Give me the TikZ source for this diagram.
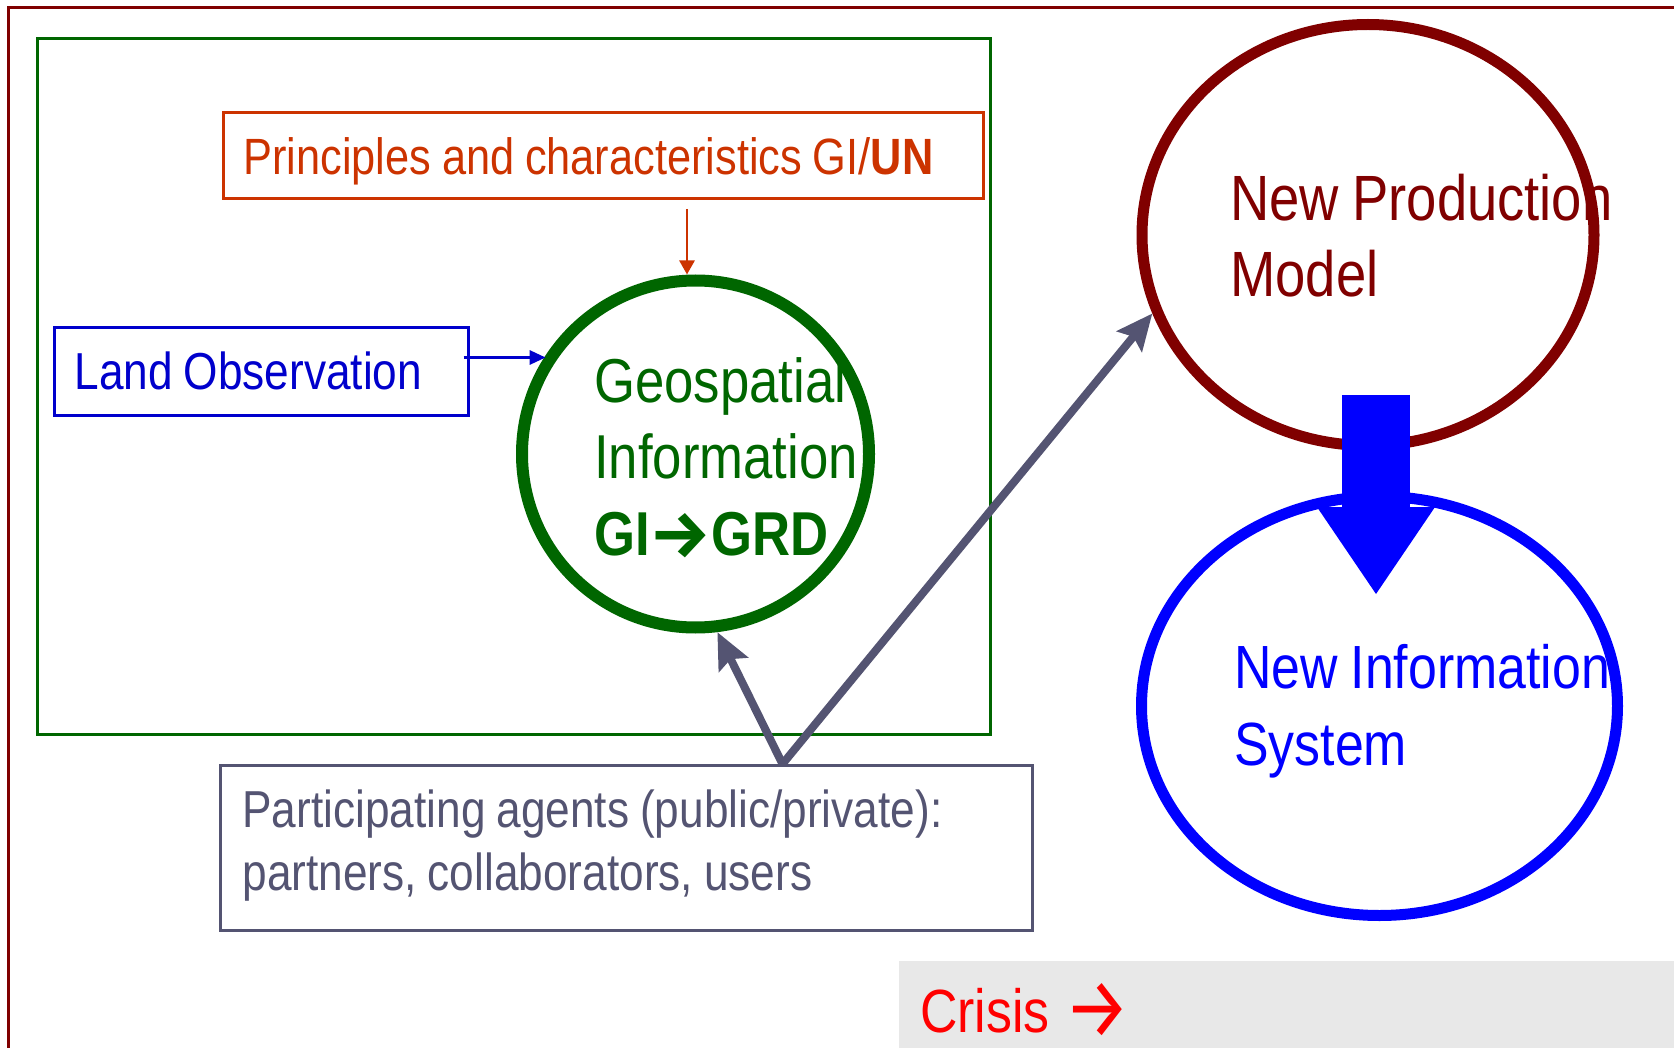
\documentclass[tikz,border=0pt]{standalone}
\usepackage{fontspec}
\usepackage{graphicx}
\setmainfont[FakeStretch=0.85]{Liberation Sans}
\newfontfamily\arrowfont{Fira Sans}
\usetikzlibrary{shapes.geometric,arrows.meta,calc}
\definecolor{frameRed}{HTML}{800000}
\definecolor{geoGreen}{HTML}{006600}
\definecolor{prinOrange}{HTML}{CC3300}
\definecolor{landBlue}{HTML}{0000CC}
\definecolor{agentGray}{HTML}{545472}
\definecolor{npmRed}{HTML}{800000}
\definecolor{nisBlue}{HTML}{0000FF}
\definecolor{crisisRed}{HTML}{FF0000}
\definecolor{crisisBg}{HTML}{E8E8E8}
\newcommand\myfs[2]{\fontsize{#1}{#2}\selectfont\spaceskip=0.21em plus 0.1em minus 0.05em\relax}
\newcommand\rarr[3]{\raisebox{#3}{\resizebox{#1}{#2}{\arrowfont →}}}
\newcommand\rarrbold[3]{\raisebox{#3}{\resizebox{#1}{#2}{\arrowfont\bfseries →}}}
\begin{document}
\begin{tikzpicture}[x=1pt,y=-1pt,
  textbox/.style={draw, rectangle, line width=3pt, align=flush left, inner ysep=0pt, anchor=north west},
  freetext/.style={anchor=base west, align=flush left, inner sep=0pt},
  agentarrow/.style={draw=agentGray, line width=8pt, -{Stealth[length=36pt,width=32pt,inset=6pt]}}
]
\path[use as bounding box] (0,0) rectangle (1674,1048);

% outer frame
\draw[frameRed, line width=3pt] (1674,8) -- (8,8) -- (8,1048);

% green frame
\draw[geoGreen, line width=3pt] (37,39) rectangle (990,734);

% crisis band
\node[fill=crisisBg, anchor=north west, minimum width=775pt, minimum height=87pt,
      inner xsep=21pt, inner ysep=0pt, text width=754pt, align=flush left,
      text height=71pt, text depth=16pt, text=crisisRed, font=\myfs{61}{70}] (crisis) at (899,961)
      {Crisis\hspace{15pt}\rarr{66pt}{54pt}{-5pt}};

% boxes
\node[textbox, draw=prinOrange, text=prinOrange, minimum width=760pt, minimum height=86pt,
      inner xsep=20pt, text width=720pt, text height=62pt, text depth=24pt, font=\myfs{51}{60}]
      (prin) at (222,111) {Principles and characteristics GI/\textbf{UN}};

\node[textbox, draw=landBlue, text=landBlue, minimum width=414pt, minimum height=88pt,
      inner xsep=20pt, text width=374pt, text height=62pt, text depth=26pt, font=\myfs{52}{60}]
      (land) at (53,326) {Land Observation};

\node[textbox, draw=agentGray, text=agentGray, minimum width=812pt, minimum height=165pt,
      inner xsep=22pt, text width=768pt, text height=62pt, text depth=103pt, font=\myfs{52}{63}]
      (agents) at (219,764) {Participating agents (public/private):\\partners, collaborators, users};

% geospatial circle
\node[freetext, text=geoGreen, font=\myfs{62}{76.5}] (geotext) at (594,555)
      {Geospatial\\Information\\\textbf{GI\rarrbold{62pt}{44pt}{-2pt}GRD}};
\node[circle, draw=geoGreen, line width=12pt, minimum size=347pt, inner sep=0pt] (geo) at (695.5,454) {};

% ellipses
\node[freetext, text=npmRed, font=\myfs{64}{76}] (npmtext) at (1230,297) {New Production\\Model};
\node[ellipse, draw=npmRed, line width=11pt, minimum width=452pt, minimum height=421pt, inner sep=0pt] (npm) at (1368,235) {};

\node[freetext, text=nisBlue, font=\myfs{61}{77}] (nistext) at (1234,765) {New Information\\System};
\node[ellipse, draw=nisBlue, line width=11pt, minimum width=476pt, minimum height=419pt, inner sep=0pt] (nis) at (1379.5,706) {};

% connectors
\draw[prinOrange, line width=2.7pt, -{Triangle[length=14pt,width=15pt]}]
  ([xshift=-8.5pt,yshift=-9pt]prin.south -| geo.north) -- ([xshift=-8.5pt]geo.north);

\draw[landBlue, line width=3pt, -{Triangle[length=16pt,width=14pt]}]
  ([xshift=-6.5pt,yshift=14pt]land.east) -- ([xshift=-6.5pt,yshift=14pt]land.east -| geo.143);

\coordinate (apex) at ([xshift=156pt]agents.north);
\draw[agentarrow] (apex) -- (geo.-83);
\draw[agentarrow] (apex) -- (npm.200);

\draw[nisBlue, line width=68pt, -{Triangle[length=87pt,width=118pt,line width=0pt]}]
  ([xshift=8pt,yshift=56pt]npm.south) -- ([xshift=-3.5pt,yshift=-103pt]nis.north);
\end{tikzpicture}
\end{document}
